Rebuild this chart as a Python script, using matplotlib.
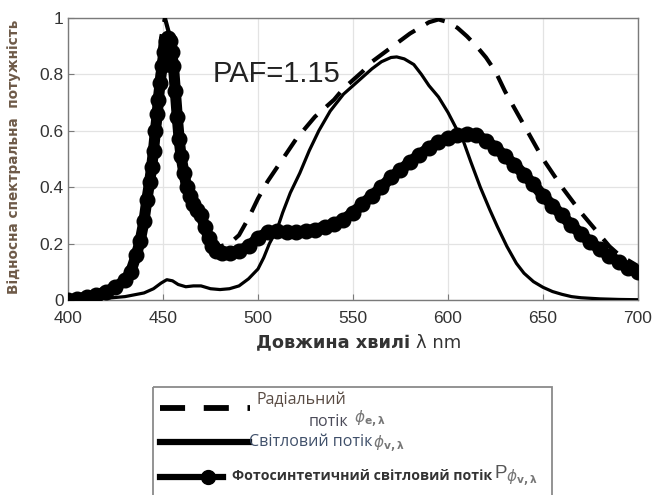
import matplotlib
matplotlib.use("Agg")
import matplotlib.pyplot as plt
from matplotlib.patches import Rectangle
from matplotlib.lines import Line2D

# ---------------- data ----------------
pps_x = [400, 405, 410, 415, 420, 425, 430, 433, 436, 438, 440, 441.5, 443, 444, 445, 446,
         447, 447.5, 448.5, 449.5, 450.5, 451.5, 452.5, 453.5, 454.5, 455.5, 456.5, 457.5,
         458.5, 459.5, 461, 462.5, 464, 466, 468, 470, 472, 474, 476, 478, 481, 485, 490,
         495, 500, 505, 510, 515, 520, 525, 530, 535, 540, 545, 550, 555, 560, 565, 570,
         575, 580, 585, 590, 595, 600, 605, 610, 615, 620, 625, 630, 635, 640, 645, 650,
         655, 660, 665, 670, 675, 680, 685, 690, 695, 700]
pps_y = [0.0, 0.005, 0.01, 0.018, 0.03, 0.045, 0.07, 0.10, 0.16, 0.21, 0.28, 0.355, 0.42,
         0.47, 0.53, 0.60, 0.66, 0.71, 0.77, 0.83, 0.88, 0.92, 0.93, 0.92, 0.88, 0.83, 0.74,
         0.65, 0.57, 0.51, 0.45, 0.40, 0.37, 0.34, 0.32, 0.30, 0.26, 0.22, 0.19, 0.175,
         0.165, 0.165, 0.175, 0.19, 0.22, 0.24, 0.245, 0.24, 0.24, 0.245, 0.25, 0.26, 0.27,
         0.285, 0.31, 0.34, 0.37, 0.40, 0.435, 0.46, 0.49, 0.515, 0.54, 0.56, 0.575, 0.585,
         0.59, 0.585, 0.565, 0.54, 0.51, 0.48, 0.445, 0.41, 0.37, 0.335, 0.30, 0.265, 0.235,
         0.205, 0.18, 0.155, 0.135, 0.115, 0.10]

rad_x = [400, 410, 420, 430, 436, 440, 443, 445, 447, 449, 451, 453, 455, 457, 459, 462,
         466, 470, 475, 480, 485, 490, 495, 500, 505, 510, 515, 520, 525, 530, 535, 540,
         545, 550, 555, 560, 565, 570, 575, 580, 585, 590, 595, 600, 605, 610, 615, 620,
         625, 630, 635, 640, 645, 650, 655, 660, 665, 670, 675, 680, 685, 690, 695, 700]
rad_y = [0.0, 0.008, 0.025, 0.065, 0.15, 0.28, 0.45, 0.60, 0.78, 0.93, 1.0, 0.95, 0.82,
         0.66, 0.52, 0.42, 0.35, 0.30, 0.22, 0.19, 0.20, 0.23, 0.29, 0.36, 0.42, 0.47, 0.52,
         0.57, 0.61, 0.65, 0.68, 0.71, 0.75, 0.78, 0.81, 0.845, 0.87, 0.895, 0.92, 0.945,
         0.965, 0.985, 0.995, 0.985, 0.965, 0.935, 0.90, 0.86, 0.81, 0.74, 0.68, 0.62, 0.56,
         0.50, 0.45, 0.40, 0.355, 0.31, 0.27, 0.23, 0.19, 0.16, 0.14, 0.12]

lum_x = [400, 410, 420, 430, 440, 445, 449, 452, 455, 458, 462, 466, 470, 475, 480, 485,
         490, 495, 500, 503, 506, 510, 513, 517, 522, 527, 532, 538, 545, 550, 555, 560,
         565, 570, 573, 577, 582, 586, 590, 595, 600, 605, 608, 612, 617, 622, 626, 631,
         636, 640, 645, 650, 655, 660, 665, 670, 680, 690, 700]
lum_y = [0.0, 0.002, 0.006, 0.012, 0.025, 0.04, 0.06, 0.072, 0.068, 0.055, 0.047, 0.05,
         0.05, 0.04, 0.037, 0.04, 0.05, 0.075, 0.11, 0.15, 0.20, 0.25, 0.31, 0.38, 0.45,
         0.53, 0.60, 0.67, 0.73, 0.76, 0.79, 0.82, 0.845, 0.86, 0.862, 0.855, 0.835, 0.80,
         0.76, 0.72, 0.665, 0.60, 0.565, 0.49, 0.40, 0.32, 0.26, 0.19, 0.13, 0.095, 0.065,
         0.045, 0.03, 0.02, 0.012, 0.008, 0.004, 0.002, 0.001]

x_ticks = [400, 450, 500, 550, 600, 650, 700]
y_ticks = [0, 0.2, 0.4, 0.6, 0.8, 1]
y_tick_labels = ["0", "0.2", "0.4", "0.6", "0.8", "1"]

annot_text = "PAF=1.15"
xlabel_bold = "Довжина хвилі"
xlabel_rest = "λ nm"
ylabel = "Відносна спектральна  потужність"
leg_rad_1 = "Радіальний"
leg_rad_2 = "потік"
leg_lum = "Світловий потік"
leg_pps = "Фотосинтетичний світловий потік"

# ---------------- figure ----------------
W, H = 657, 495
fig = plt.figure(figsize=(W / 100, H / 100), dpi=100)
fig.patch.set_facecolor("white")

ax = fig.add_axes([68 / W, 1 - 300 / H, 570 / W, 282 / H])
ax.plot(rad_x, rad_y, color="black", lw=3.0, linestyle=(0, (4.8, 3.0)), zorder=3)
ax.plot(lum_x, lum_y, color="black", lw=2.3, zorder=4)
ax.plot(pps_x, pps_y, color="black", lw=8, marker="o", markersize=10.5, zorder=5,
        solid_capstyle="round", solid_joinstyle="round")

ax.set_xlim(400, 700)
ax.set_ylim(0, 1)
ax.set_xticks(x_ticks)
ax.set_yticks(y_ticks)
ax.set_yticklabels(y_tick_labels)
ax.grid(True, color="#e3e3e3", lw=0.9)
ax.set_axisbelow(True)
for s in ax.spines.values():
    s.set_color("#7a7a7a")
    s.set_linewidth(1.0)
ax.tick_params(direction="in", length=4, color="#7a7a7a", labelsize=12.5,
               labelcolor="#333333", pad=3,
               labelfontfamily="Liberation Sans")
ax.tick_params(axis="x", pad=8)

ax.text(476, 0.80, annot_text, fontsize=21, family="Liberation Sans",
        color="#222222", va="center", ha="left", zorder=6)

# axis labels
fig.text(410 / W, 1 - 343 / H, xlabel_bold, ha="right", va="center", fontsize=12.8,
         fontweight="bold", color="#333333", family="DejaVu Sans")
fig.text(416 / W, 1 - 343 / H, xlabel_rest, ha="left", va="center", fontsize=13,
         color="#333333", family="DejaVu Sans")
fig.text(14 / W, 1 - 157 / H, ylabel, rotation=90, ha="center", va="center",
         fontsize=9.8, fontweight="bold", color="#6e5a48", family="DejaVu Sans")

# ---------------- legend (drawn in pixel space) ----------------
lax = fig.add_axes([0, 0, 1, 1])
lax.set_xlim(0, W)
lax.set_ylim(H, 0)
lax.axis("off")
lax.patch.set_alpha(0)
lax.add_patch(Rectangle((153, 387), 399, 120, fill=False, edgecolor="#8a8a8a", lw=1.3))
lax.add_line(Line2D([160, 250], [408, 408], color="black", lw=4.2,
                    linestyle=(0, (4.3, 3.2))))
lax.add_line(Line2D([160, 249], [442, 442], color="black", lw=4.5))
lax.add_line(Line2D([160, 223], [477, 477], color="black", lw=4.5))
lax.add_line(Line2D([208], [477], color="black", marker="o", markersize=10, lw=0))

txt_kw = dict(family="Open Sans", va="center", ha="left")
lax.text(257, 400, leg_rad_1, fontsize=11.5, color="#5a4c44", **txt_kw)
lax.text(309, 422, leg_rad_2, fontsize=11.5, color="#4a4a58", **txt_kw)
lax.text(354, 419, r"$\phi_{\mathbf{e,\lambda}}$", fontsize=11, color="#777777",
         va="center", ha="left")
lax.text(249, 442, leg_lum, fontsize=11.5, color="#40506a", **txt_kw)
lax.text(373, 444, r"$\phi_{\mathbf{v,\lambda}}$", fontsize=11, color="#777777",
         va="center", ha="left")
lax.text(232, 476, leg_pps, fontsize=10.2, fontweight="bold", color="#333333", **txt_kw)
lax.text(494, 474, "P", fontsize=13.5, color="#555555", family="Liberation Sans",
         va="center", ha="left")
lax.text(506, 478, r"$\phi_{\mathbf{v,\lambda}}$", fontsize=11, color="#777777",
         va="center", ha="left")

fig.savefig("out.png", dpi=100)
